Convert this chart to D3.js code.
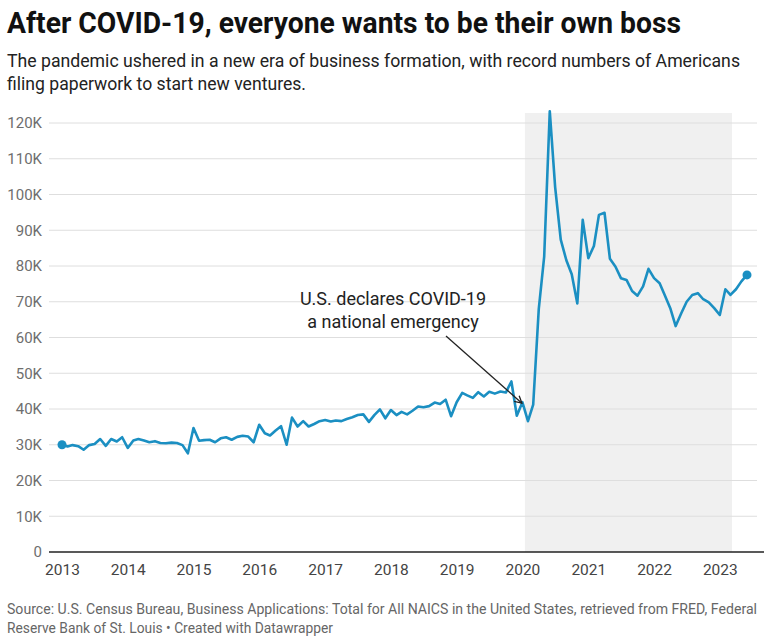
<!DOCTYPE html>
<html>
<head>
<meta charset="utf-8">
<script src="https://cdn.jsdelivr.net/npm/d3@7"></script>
<style>
  html, body { margin: 0; padding: 0; background: #fff; }
  svg { display: block; font-family: Roboto, "Noto Sans", sans-serif; }
</style>
</head>
<body>
<svg id="chart" width="768" height="642"></svg>
<script>
// ---- Data (monthly, Jan 2013 – Jun 2023) ----
const startMonth = "2013-01";
const applications = [
  30.0, 29.5, 29.9, 29.6, 28.6, 29.9, 30.2, 31.6, 29.7, 31.6, 30.9, 32.1,
  29.1, 31.2, 31.6, 31.2, 30.7, 31.0, 30.5, 30.4, 30.6, 30.5, 29.9, 27.6,
  34.7, 31.1, 31.3, 31.4, 30.7, 31.8, 32.1, 31.4, 32.2, 32.5, 32.3, 30.7,
  35.6, 33.2, 32.6, 34.0, 35.2, 30.0, 37.6, 35.1, 36.6, 35.1, 35.8, 36.6,
  36.9, 36.5, 36.8, 36.6, 37.2, 37.7, 38.3, 38.5, 36.4, 38.3, 39.9, 37.4,
  39.7, 38.3, 39.2, 38.5, 39.5, 40.7, 40.5, 40.8, 41.8, 41.4, 42.6, 38.0,
  41.9, 44.5, 43.8, 43.1, 44.7, 43.5, 44.8, 44.3, 44.9, 44.6, 47.7, 38.1,
  41.9, 36.6, 41.2, 68.0, 82.6, 123.3, 102.0, 87.4, 81.6, 77.7, 69.5, 92.9,
  82.2, 85.6, 94.3, 94.9, 82.0, 79.8, 76.6, 76.1, 73.0, 71.7, 74.3, 79.2,
  76.6, 75.2, 71.9, 68.2, 63.2, 66.8, 70.0, 71.9, 72.4, 70.7, 69.8, 68.2,
  66.3, 73.5, 71.9, 73.5, 75.7, 77.5
]; // thousands
const yTicks = [0, 10, 20, 30, 40, 50, 60, 70, 80, 90, 100, 110, 120];
const yTickLabels = ["0", "10K", "20K", "30K", "40K", "50K", "60K", "70K", "80K", "90K", "100K", "110K", "120K"];
const xTickYears = ["2013", "2014", "2015", "2016", "2017", "2018", "2019", "2020", "2021", "2022", "2023"];
const shadeRange = ["2020-01-15", "2023-03-10"];
const annotationLines = ["U.S. declares COVID-19", "a national emergency"];
const annotationTarget = "2020-01"; // arrow points at this month
const titleText = "After COVID-19, everyone wants to be their own boss";
const subtitleLines = [
  "The pandemic ushered in a new era of business formation, with record numbers of Americans",
  "filing paperwork to start new ventures."
];
const footerLines = [
  "Source: U.S. Census Bureau, Business Applications: Total for All NAICS in the United States, retrieved from FRED, Federal",
  "Reserve Bank of St. Louis \u2022 Created with Datawrapper"
];

// ---- Setup ----
const svg = d3.select("#chart");
const parseMonth = d3.timeParse("%Y-%m");
const parseDay = d3.timeParse("%Y-%m-%d");
const start = parseMonth(startMonth);
const data = applications.map((v, i) => ({ date: d3.timeMonth.offset(start, i), value: v }));

const lineColor = "#1b8fc2";
const x = d3.scaleTime()
  .domain([data[0].date, data[data.length - 1].date])
  .range([62, 747]);
const y = d3.scaleLinear().domain([0, 120]).range([552, 123]);

// Shaded region
svg.append("rect")
  .attr("x", x(parseDay(shadeRange[0])))
  .attr("y", 113)
  .attr("width", x(parseDay(shadeRange[1])) - x(parseDay(shadeRange[0])))
  .attr("height", y(0) - 113)
  .attr("fill", "#f0f0f0");

// Gridlines + y labels
const gridX0 = 49, gridX1 = 757;
const yAxis = svg.append("g");
yTicks.forEach((t, i) => {
  if (t !== 0) {
    yAxis.append("line")
      .attr("x1", gridX0).attr("x2", gridX1)
      .attr("y1", y(t)).attr("y2", y(t))
      .attr("stroke", "#dedede").attr("stroke-width", 1);
  }
  yAxis.append("text")
    .attr("x", 42).attr("y", y(t)).attr("dy", "0.35em")
    .attr("text-anchor", "end")
    .attr("font-size", 15).attr("fill", "#6e6e6e")
    .text(yTickLabels[i]);
});
// Baseline
svg.append("line")
  .attr("x1", gridX0).attr("x2", 764)
  .attr("y1", y(0)).attr("y2", y(0))
  .attr("stroke", "#222").attr("stroke-width", 1.3);

// X labels
const xAxis = d3.axisBottom(x)
  .tickValues(xTickYears.map(s => d3.timeParse("%Y")(s)))
  .tickFormat(d3.timeFormat("%Y"))
  .tickSize(0).tickPadding(0);
const xg = svg.append("g").attr("transform", `translate(0,${y(0)})`).call(xAxis);
xg.select(".domain").remove();
xg.selectAll("text")
  .attr("y", 18).attr("dy", "0.35em")
  .attr("font-family", "Roboto, sans-serif")
  .attr("font-size", 15.5).attr("fill", "#444");

// Line
const line = d3.line().x(d => x(d.date)).y(d => y(d.value)).curve(d3.curveLinear);
svg.append("path")
  .datum(data)
  .attr("d", line)
  .attr("fill", "none")
  .attr("stroke", lineColor)
  .attr("stroke-width", 2.6)
  .attr("stroke-linejoin", "round");

// End dots
[data[0], data[data.length - 1]].forEach(d => {
  svg.append("circle")
    .attr("cx", x(d.date)).attr("cy", y(d.value)).attr("r", 4.5)
    .attr("fill", lineColor);
});

// Annotation
const ann = svg.append("g");
annotationLines.forEach((t, i) => {
  ann.append("text")
    .attr("x", 393).attr("y", 305 + i * 23)
    .attr("text-anchor", "middle")
    .attr("font-size", 18).attr("fill", "#222")
    .text(t);
});
const tgt = data.find(d => +d.date === +parseMonth(annotationTarget));
const tipX = x(tgt.date) - 0.5, tipY = y(tgt.value) + 1;
const fromX = 446, fromY = 336;
ann.append("line")
  .attr("x1", fromX).attr("y1", fromY)
  .attr("x2", tipX).attr("y2", tipY)
  .attr("stroke", "#222").attr("stroke-width", 1.3);
const ang = Math.atan2(tipY - fromY, tipX - fromX);
const headLen = 8, spread = 0.5;
ann.append("path")
  .attr("d", `M${tipX - headLen * Math.cos(ang - spread)},${tipY - headLen * Math.sin(ang - spread)} L${tipX},${tipY} L${tipX - headLen * Math.cos(ang + spread)},${tipY - headLen * Math.sin(ang + spread)}`)
  .attr("fill", "none").attr("stroke", "#222").attr("stroke-width", 1.3);

// Title, subtitle, footer
function fitText(sel, width) {
  const w = sel.node().getComputedTextLength();
  if (w > 0) sel.attr("textLength", width).attr("lengthAdjust", "spacingAndGlyphs");
}
const title = svg.append("text")
  .attr("x", 7).attr("y", 33)
  .attr("font-size", 29).attr("font-weight", 700).attr("fill", "#111")
  .text(titleText);
fitText(title, 674);

const subWidths = [733, 299];
subtitleLines.forEach((t, i) => {
  const s = svg.append("text")
    .attr("x", 7).attr("y", 67 + i * 23)
    .attr("font-size", 18).attr("fill", "#222")
    .text(t);
  fitText(s, subWidths[i]);
});

const footWidths = [750, 326];
footerLines.forEach((t, i) => {
  const f = svg.append("text")
    .attr("x", 7).attr("y", 614 + i * 19)
    .attr("font-size", 14).attr("fill", "#666")
    .text(t);
  fitText(f, footWidths[i]);
});
</script>
</body>
</html>
